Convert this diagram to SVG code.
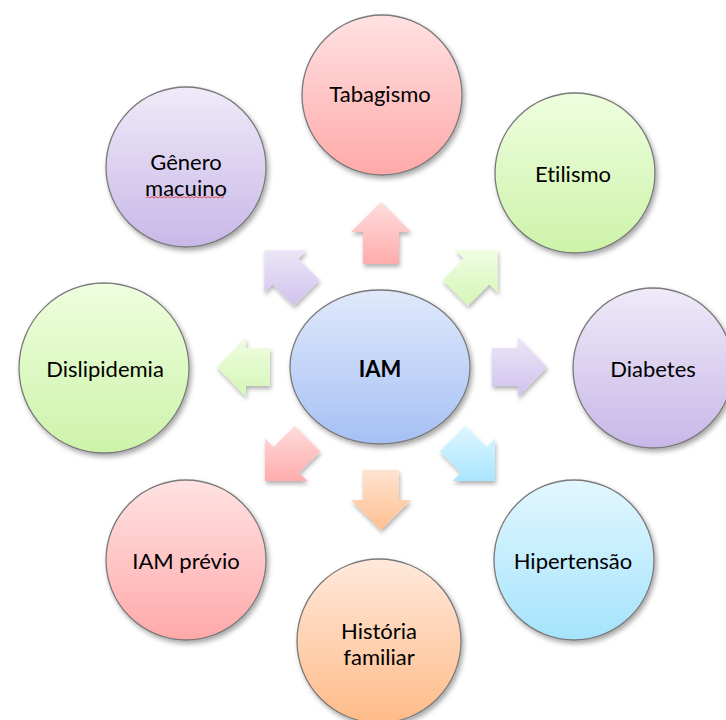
<svg xmlns="http://www.w3.org/2000/svg" width="726" height="720" viewBox="0 0 726 720">
  <defs>
    <!-- vertical fills, light at top -->
    <linearGradient id="gPink" x1="0" y1="0" x2="0" y2="1"><stop offset="0" stop-color="#ffe2e2"/><stop offset="1" stop-color="#ffa9a9"/></linearGradient>
    <linearGradient id="gGreen" x1="0" y1="0" x2="0" y2="1"><stop offset="0" stop-color="#eefedf"/><stop offset="1" stop-color="#cdf3a9"/></linearGradient>
    <linearGradient id="gPurple" x1="0" y1="0" x2="0" y2="1"><stop offset="0" stop-color="#efeaf8"/><stop offset="1" stop-color="#c8b8e8"/></linearGradient>
    <linearGradient id="gCyan" x1="0" y1="0" x2="0" y2="1"><stop offset="0" stop-color="#e2f7ff"/><stop offset="1" stop-color="#a5e3fb"/></linearGradient>
    <linearGradient id="gOrange" x1="0" y1="0" x2="0" y2="1"><stop offset="0" stop-color="#ffe9dc"/><stop offset="1" stop-color="#ffbb88"/></linearGradient>
    <linearGradient id="gBlue" x1="0" y1="0" x2="0" y2="1"><stop offset="0" stop-color="#e0e9fb"/><stop offset="1" stop-color="#a6c0f4"/></linearGradient>

    <linearGradient id="aPink" x1="0" y1="0" x2="0" y2="1"><stop offset="0" stop-color="#ffdcdc"/><stop offset="1" stop-color="#ffacac"/></linearGradient>
    <linearGradient id="aGreen" x1="0" y1="0" x2="0" y2="1"><stop offset="0" stop-color="#f0fde2"/><stop offset="1" stop-color="#d4f6b6"/></linearGradient>
    <linearGradient id="aPurple" x1="0" y1="0" x2="0" y2="1"><stop offset="0" stop-color="#ece6f7"/><stop offset="1" stop-color="#d0c2ee"/></linearGradient>
    <linearGradient id="aCyan" x1="0" y1="0" x2="0" y2="1"><stop offset="0" stop-color="#def6ff"/><stop offset="1" stop-color="#a9e6ff"/></linearGradient>
    <linearGradient id="aOrange" x1="0" y1="0" x2="0" y2="1"><stop offset="0" stop-color="#fee3d2"/><stop offset="1" stop-color="#ffbf8e"/></linearGradient>

    <filter id="shadow" x="-20%" y="-20%" width="150%" height="150%">
      <feDropShadow dx="2" dy="3" stdDeviation="2.5" flood-color="#000" flood-opacity="0.35"/>
    </filter>
    <filter id="ashadow" x="-30%" y="-30%" width="160%" height="160%">
      <feDropShadow dx="1" dy="3" stdDeviation="2" flood-color="#000" flood-opacity="0.3"/>
    </filter>
  </defs>

  <style>
    .node { stroke: #7a7a7a; stroke-width: 1.3; filter: url(#shadow); }
    .arrow { stroke: none; filter: url(#ashadow); }
    .label { font-family: Lato, "Liberation Sans", sans-serif; font-size: 22px; fill: #000; text-anchor: middle; dominant-baseline: central; font-variant-ligatures: none; }
    .center { font-weight: bold; }
  </style>

  <rect width="726" height="720" fill="#ffffff"/>

  <!-- block arrows radiating from the hub -->
  <g id="connectors" transform="translate(381,367)">
    <path class="arrow" fill="url(#aPink)"   d="M0,-165 L30,-135 L18,-135 L18,-103 L-18,-103 L-18,-135 L-30,-135 Z"/>
    <path class="arrow" fill="url(#aGreen)"  d="M116.7,-116.7 L116.7,-74.2 L108.2,-82.7 L87,-61.5 L61.5,-87 L82.7,-108.2 L74.2,-116.7 Z"/>
    <path class="arrow" fill="url(#aPurple)" d="M166,0 L137,30 L137,19 L111,19 L111,-19 L137,-19 L137,-30 Z"/>
    <path class="arrow" fill="url(#aCyan)"   d="M114,114 L114,71.5 L105.5,80 L84.3,58.8 L58.8,84.3 L80,105.5 L71.5,114 Z"/>
    <path class="arrow" fill="url(#aOrange)" d="M0,163 L30,133 L18,133 L18,103 L-18,103 L-18,133 L-30,133 Z"/>
    <path class="arrow" fill="url(#aPink)"   d="M-116,114 L-116,71.5 L-107.5,80 L-86.3,58.8 L-60.8,84.3 L-82,105.5 L-73.5,114 Z"/>
    <path class="arrow" fill="url(#aGreen)"  d="M-164,0 L-135,30 L-135,19 L-111,19 L-111,-19 L-135,-19 L-135,-30 Z"/>
    <path class="arrow" fill="url(#aPurple)" d="M-116.7,-116.7 L-116.7,-74.2 L-108.2,-82.7 L-87,-61.5 L-61.5,-87 L-82.7,-108.2 L-74.2,-116.7 Z"/>
  </g>

  <g id="iam">
    <ellipse class="node" cx="380" cy="367" rx="90" ry="77" fill="url(#gBlue)"/>
    <text class="label center" x="380" y="368">IAM</text>
  </g>

  <g id="tabagismo">
    <circle class="node" cx="382" cy="95" r="80" fill="url(#gPink)"/>
    <text class="label" x="380" y="93">Tabagismo</text>
  </g>

  <g id="etilismo">
    <circle class="node" cx="575" cy="173" r="80" fill="url(#gGreen)"/>
    <text class="label" x="573" y="173">Etilismo</text>
  </g>

  <g id="diabetes">
    <circle class="node" cx="653" cy="368" r="80" fill="url(#gPurple)"/>
    <text class="label" x="653" y="368">Diabetes</text>
  </g>

  <g id="hipertensao">
    <circle class="node" cx="574" cy="560" r="80" fill="url(#gCyan)"/>
    <text class="label" x="573" y="560">Hipertensão</text>
  </g>

  <g id="historia-familiar">
    <circle class="node" cx="379" cy="641" r="82" fill="url(#gOrange)"/>
    <text class="label" x="379" y="630">História</text>
    <text class="label" x="379" y="656">familiar</text>
  </g>

  <g id="iam-previo">
    <circle class="node" cx="186" cy="560" r="80" fill="url(#gPink)"/>
    <text class="label" x="186" y="560">IAM prévio</text>
  </g>

  <g id="dislipidemia">
    <circle class="node" cx="104" cy="368" r="85" fill="url(#gGreen)"/>
    <text class="label" x="105" y="368">Dislipidemia</text>
  </g>

  <g id="genero-macuino">
    <circle class="node" cx="186" cy="167" r="80" fill="url(#gPurple)"/>
    <text class="label" x="186" y="161">Gênero</text>
    <text class="label" x="186" y="187">macuino</text>
    <!-- spell-check squiggle under the second line -->
    <path d="M146,198 l2,-1.5 l2,1.5 l2,-1.5 l2,1.5 l2,-1.5 l2,1.5 l2,-1.5 l2,1.5 l2,-1.5 l2,1.5 l2,-1.5 l2,1.5 l2,-1.5 l2,1.5 l2,-1.5 l2,1.5 l2,-1.5 l2,1.5 l2,-1.5 l2,1.5 l2,-1.5 l2,1.5 l2,-1.5 l2,1.5 l2,-1.5 l2,1.5 l2,-1.5 l2,1.5 l2,-1.5 l2,1.5 l2,-1.5 l2,1.5 l2,-1.5 l2,1.5 l2,-1.5 l2,1.5 l2,-1.5 l2,1.5 l2,-1.5" fill="none" stroke="#e03030" stroke-width="0.8"/>
  </g>
</svg>
